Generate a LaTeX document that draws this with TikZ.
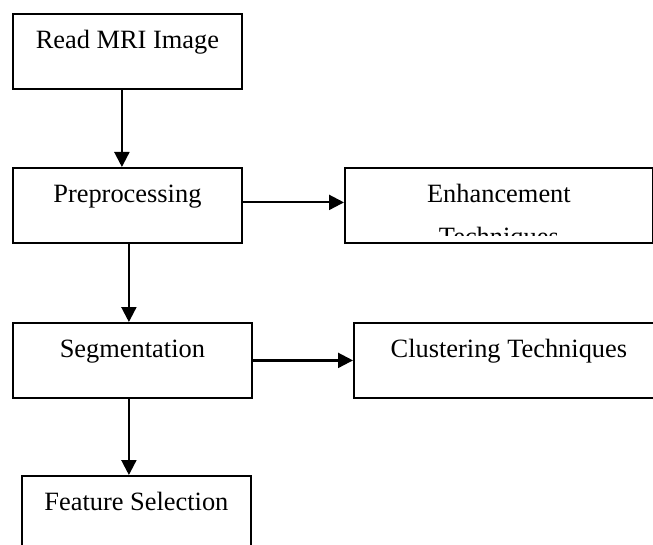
\documentclass[tikz,border=0pt]{standalone}
\usepackage{fontspec}
\setmainfont{Liberation Serif}
\usetikzlibrary{arrows.meta}
\begin{document}
\begin{tikzpicture}[x=1pt,y=-1pt,
  stage/.style={draw, line width=1.8pt, inner xsep=0pt, inner ysep=0pt,
    anchor=north west, text height=35pt, text depth=40pt,
    font=\fontsize{26.4}{32}\selectfont},
  label text/.style={inner sep=0pt, anchor=base, font=\fontsize{26.4}{32}\selectfont},
  flow/.style={line width=2.2pt, -{Triangle[length=15pt,width=15pt]}}]
\clip (0,0) rectangle (653,545);

% process stages
\node[stage, minimum width=229pt] (read) at (12,13) {Read MRI Image};
\node[stage, minimum width=229pt] (prep) at (12,167) {Preprocessing};
\node[stage, minimum width=308pt] (enh) at (344,167) {Enhancement};
\node[stage, minimum width=239pt] (seg) at (12,322) {Segmentation};
\node[stage, minimum width=310pt] (clust) at (353,322) {Clustering Techniques};
\node[stage, minimum width=229pt, text depth=50pt] (feat) at (21,475) {Feature Selection};

% second line of the enhancement box, cut off by the box
\begin{scope}
  \clip (344,167) rectangle (652,236);
  \node[label text] (enh2) at ([yshift=-43pt]enh.base) {Techniques};
\end{scope}

% connectors
\draw[flow] ([xshift=-5.5pt]read.south) -- ([xshift=-5.5pt]read.south |- prep.north);
\draw[flow] ([xshift=1.5pt]prep.south) -- ([xshift=1.5pt]prep.south |- seg.north);
\draw[flow] ([xshift=-3.5pt]seg.south) -- ([xshift=-3.5pt]seg.south |- feat.north);
\draw[flow] ([yshift=3pt]prep.east) -- ([yshift=3pt]prep.east -| enh.west);
\draw[flow] (seg.east) -- (seg.east -| clust.west);
\end{tikzpicture}
\end{document}
